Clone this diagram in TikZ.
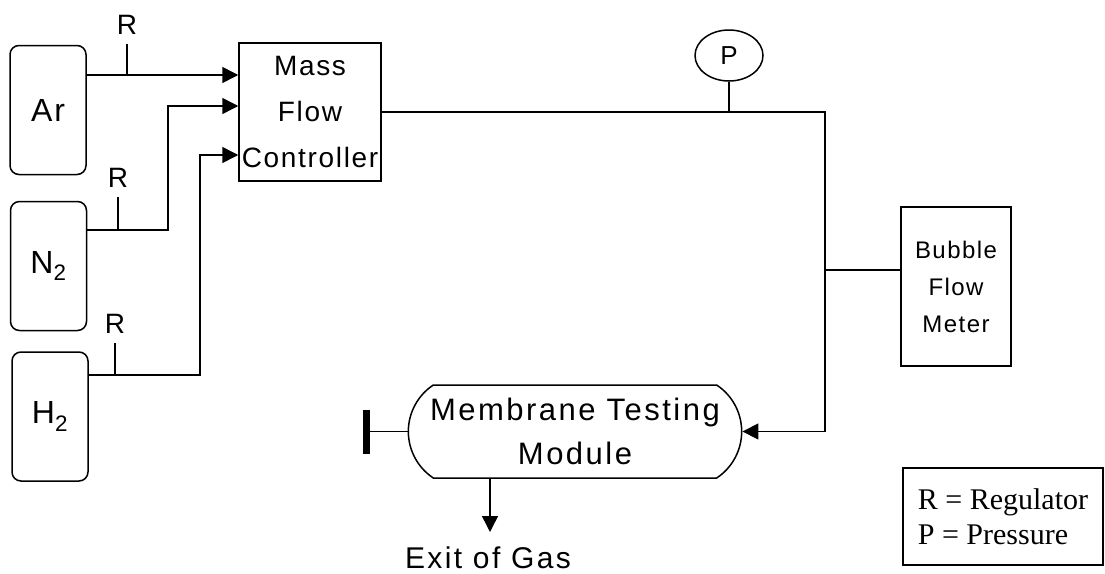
\documentclass[tikz,border=0pt]{standalone}
\usepackage{fontspec}
\newfontfamily\diagfont[LetterSpace=6]{Liberation Sans}
\newfontfamily\widefont[LetterSpace=8]{Liberation Sans}
\newfontfamily\keyfont{Liberation Serif}
\usepackage{tikz}
\usetikzlibrary{positioning, shapes.geometric, shapes.misc, arrows.meta}

\begin{document}
\begin{tikzpicture}[x=1pt, y=-1pt, line width=1.5pt,
  tank/.style={draw, rounded corners=9pt, minimum width=76pt, minimum height=129pt,
    font=\diagfont\fontsize{32}{36}\selectfont},
  unitbox/.style={draw, align=center, inner sep=0pt},
  reglabel/.style={font=\diagfont\fontsize{28}{30}\selectfont, inner sep=2pt},
  flow/.style={-{Triangle[length=16pt,width=16pt]}}]
  \useasboundingbox (0,0) rectangle (1105,573);

  \node[tank] (ar) at (48,110) {Ar};
  \node[tank] (nitro) at (48.5,266) {N\textsubscript{2}};
  \node[tank] (hydro) at (50,416.5) {H\textsubscript{2}};

  \node[unitbox, minimum width=142pt, minimum height=138pt,
    font=\diagfont\fontsize{28}{46}\selectfont] (mfc) at (310,112) {Mass\\Flow\\Controller};
  \node[draw, ellipse, minimum width=68pt, minimum height=51pt, inner sep=0pt,
    font=\diagfont\fontsize{26}{30}\selectfont] (pg) at (729,55.5) {P};
  \node[unitbox, minimum width=110pt, minimum height=159pt,
    font=\diagfont\fontsize{24}{37}\selectfont] (bfm) at (956,286.5) {Bubble\\Flow\\Meter};
  \node[draw, rounded rectangle, rounded rectangle arc length=113, minimum width=340pt,
    minimum height=93pt, align=center, font=\widefont\fontsize{31}{44}\selectfont]
    (mtm) at (575,431.5) {Membrane Testing\\Module};
  \node[font=\widefont\fontsize{30}{35}\selectfont] (exitlbl) at (488,558) {Exit of Gas};
  \node[draw, minimum width=200pt, minimum height=97pt, align=left,
    font=\keyfont\fontsize{30}{35}\selectfont] (key) at (1003,516.5) {R = Regulator\\P = Pressure};

  \coordinate (inAr) at ([yshift=37pt]mfc.west);
  \coordinate (regAr) at (127,44);
  \node[reglabel, above=7pt of regAr] (rAr) {R};
  \draw[flow] (ar.east |- inAr) -- (inAr);
  \draw (regAr) -- (regAr |- inAr);

  \coordinate (inN) at ([yshift=6pt]mfc.west);
  \coordinate (outN) at ([yshift=36pt]nitro.east);
  \coordinate (kinkN) at (168,230);
  \coordinate (regN) at (118,197);
  \node[reglabel, above=7pt of regN] (rN) {R};
  \draw[flow] (outN) -- (kinkN) |- (inN);
  \draw (regN) -- (regN |- outN);

  \coordinate (inH) at ([yshift=-43pt]mfc.west);
  \coordinate (outH) at ([yshift=41.5pt]hydro.east);
  \coordinate (kinkH) at (200,375);
  \coordinate (regH) at (115,343);
  \node[reglabel, above=7pt of regH] (rH) {R};
  \draw[flow] (outH) -- (kinkH) |- (inH);
  \draw (regH) -- (regH |- outH);

  \coordinate (tee) at (825,112);
  \draw[flow] (mfc.east) -- (tee) |- (mtm.east);
  \draw (pg.south) -- (pg.south |- tee);
  \coordinate (bfmin) at ([yshift=16.5pt]bfm.west);
  \draw (bfmin) -- (bfmin -| tee);

  \coordinate (vent) at (366.5,431.5);
  \draw (mtm.west) -- (vent);
  \draw[line width=7pt] ([yshift=22pt]vent) -- ([yshift=-22pt]vent);

  \coordinate (gasout) at (490,532);
  \draw[flow] (mtm.south -| gasout) -- (gasout);
\end{tikzpicture}
\end{document}
